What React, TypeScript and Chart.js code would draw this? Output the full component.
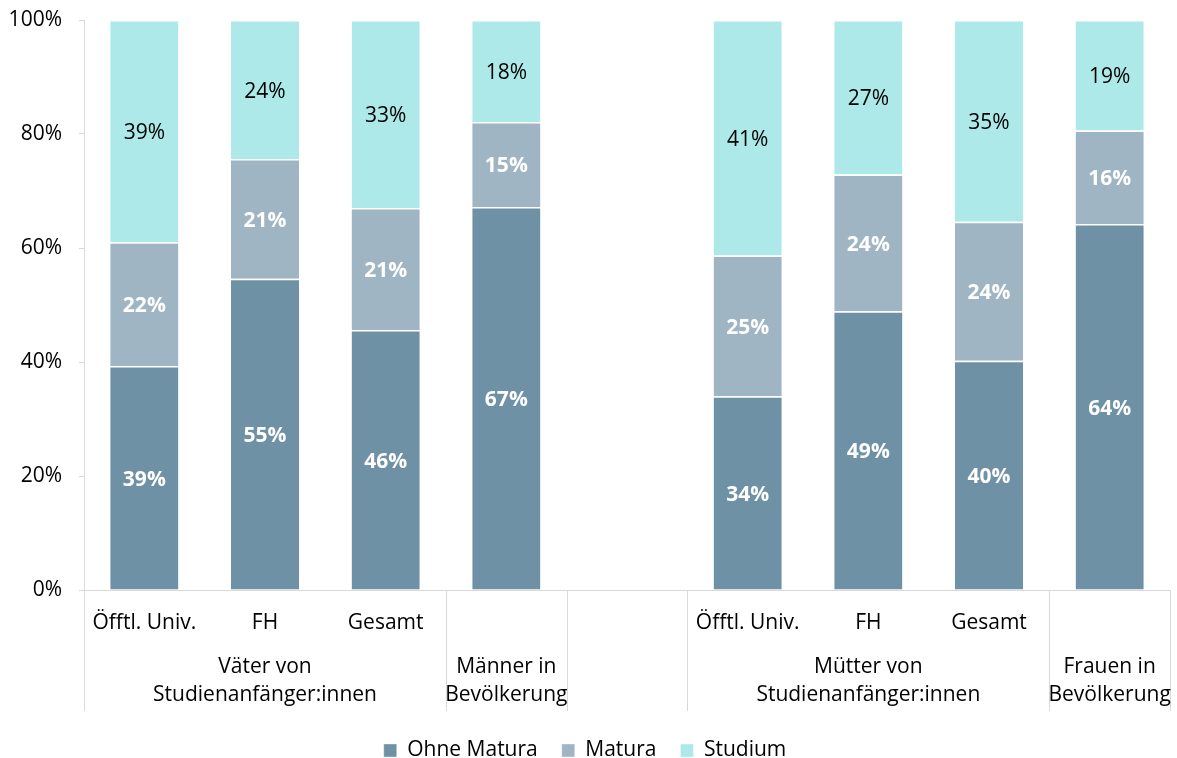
import React, { useEffect, useRef } from "react";
import { Chart, registerables } from "chart.js";

Chart.register(...registerables);

const categories = ["Öfftl. Univ.", "FH", "Gesamt", "", "", "Öfftl. Univ.", "FH", "Gesamt", ""];
const groupLabels = [
  ["Väter von", "Studienanfänger:innen"],
  ["Männer in", "Bevölkerung"],
  [],
  ["Mütter von", "Studienanfänger:innen"],
  ["Frauen in", "Bevölkerung"],
];
const groupStarts = [0, 3, 4, 5, 8];
const groupEnds = [2, 3, 4, 7, 8];

const seriesNames = ["Ohne Matura", "Matura", "Studium"];
const ohneMatura = [39.3, 54.6, 45.6, 67.2, null, 34.0, 48.9, 40.2, 64.2];
const matura = [21.7, 21.0, 21.4, 14.9, null, 24.7, 24.0, 24.4, 16.4];
const studium = [39.0, 24.4, 33.0, 17.9, null, 41.3, 27.1, 35.4, 19.4];
const colors = ["#6E91A5", "#A0B5C3", "#AEE9EA"];
const labelColors = ["#FFFFFF", "#FFFFFF", "#000000"];
const labelWeights = ["bold", "bold", "normal"];

const FONT = "'Open Sans'";
const FS = 21;
const GRAY = "#D9D9D9";

const dataLabelPlugin = {
  id: "dataLabels",
  afterDatasetsDraw(chart: any) {
    const ctx = chart.ctx;
    ctx.save();
    ctx.textAlign = "center";
    ctx.textBaseline = "middle";
    chart.data.datasets.forEach((ds: any, i: number) => {
      const meta = chart.getDatasetMeta(i);
      ctx.fillStyle = labelColors[i];
      ctx.font = `${labelWeights[i]} ${FS}px ${FONT}`;
      meta.data.forEach((el: any, j: number) => {
        const v = ds.data[j];
        if (v == null) return;
        const p = el.getProps(["x", "y", "base"], true);
        ctx.fillText(Math.round(v) + "%", p.x, (p.y + p.base) / 2 + 2);
      });
    });
    ctx.restore();
  },
};

const multiLevelPlugin = {
  id: "multiLevel",
  afterDraw(chart: any) {
    const ctx = chart.ctx;
    const x = chart.scales.x;
    const area = chart.chartArea;
    ctx.save();
    ctx.strokeStyle = GRAY;
    ctx.lineWidth = 1;
    const bounds = new Set<number>();
    groupStarts.forEach((s, i) => {
      bounds.add(s - 0.5);
      bounds.add(groupEnds[i] + 0.5);
    });
    bounds.forEach((b) => {
      const px = Math.round(x.getPixelForValue(b)) + 0.5;
      ctx.beginPath();
      ctx.moveTo(px, area.bottom);
      ctx.lineTo(px, area.bottom + 121);
      ctx.stroke();
    });
    ctx.fillStyle = "#000";
    ctx.font = `${FS}px ${FONT}`;
    ctx.textAlign = "center";
    ctx.textBaseline = "middle";
    groupLabels.forEach((lines, i) => {
      const cx = (x.getPixelForValue(groupStarts[i]) + x.getPixelForValue(groupEnds[i])) / 2;
      lines.forEach((t, k) => {
        ctx.fillText(t, cx, area.bottom + 77 + k * 28);
      });
    });
    ctx.restore();
  },
};

export default function App() {
  const ref = useRef<HTMLCanvasElement>(null);
  useEffect(() => {
    document.body.style.margin = "0";
    const chart = new Chart(ref.current!, {
      type: "bar",
      data: {
        labels: categories,
        datasets: [ohneMatura, matura, studium].map((d, i) => ({
          label: seriesNames[i],
          data: d,
          backgroundColor: colors[i],
          borderColor: "#FFFFFF",
          borderWidth: { top: 1.5, bottom: 0, left: 0, right: 0 },
          borderSkipped: false,
          barPercentage: 0.565,
          categoryPercentage: 1,
        })),
      },
      options: {
        responsive: false,
        animation: false,
        layout: { padding: { left: 0, right: 7, top: 20, bottom: -13 } },
        plugins: {
          tooltip: { enabled: false },
          legend: {
            position: "bottom",
            labels: {
              boxWidth: 13,
              boxHeight: 13,
              padding: 24,
              color: "#000",
              font: { family: FONT, size: FS },
            },
          },
        },
        scales: {
          x: {
            stacked: true,
            grid: { display: false, drawTicks: false },
            border: { display: true, color: GRAY },
            ticks: {
              color: "#000",
              font: { family: FONT, size: FS },
              padding: 20,
              autoSkip: false,
              maxRotation: 0,
            },
            afterFit: (s: any) => {
              s.height = 126;
            },
          },
          y: {
            stacked: true,
            min: 0,
            max: 100,
            grid: { drawOnChartArea: false, tickLength: 5, tickColor: GRAY },
            border: { display: true, color: GRAY },
            ticks: {
              stepSize: 20,
              color: "#000",
              padding: 17,
              font: { family: FONT, size: FS },
              callback: (v: any) => v + "%",
            },
            afterFit: (s: any) => {
              s.width = 84;
              s.paddingTop = 0;
              s.paddingBottom = 0;
            },
          },
        },
      },
      plugins: [dataLabelPlugin, multiLevelPlugin],
    });
    return () => chart.destroy();
  }, []);
  return (
    <div style={{ width: 1177, height: 758 }}>
      <canvas ref={ref} width={1177} height={758} style={{ display: "block" }} />
    </div>
  );
}
